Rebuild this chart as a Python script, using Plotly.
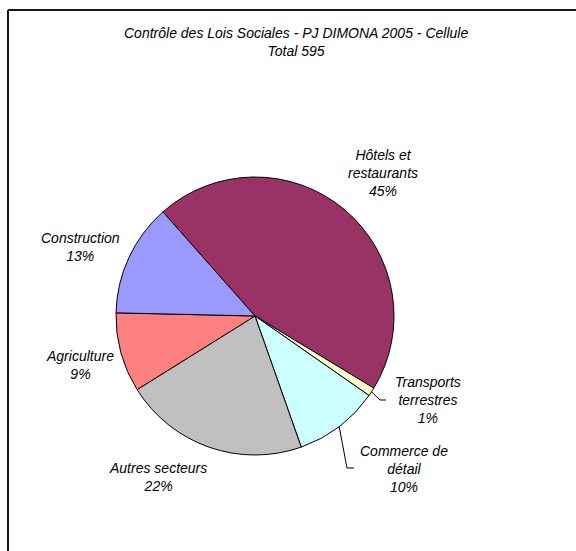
import math
import plotly.graph_objects as go

# Contrôles par secteur (nombre de dossiers)
secteurs = ["Hôtels et<br>restaurants", "Transports<br>terrestres", "Commerce de<br>détail",
            "Autres secteurs", "Agriculture", "Construction"]
nombres = [269, 6, 59, 128, 55, 78]
couleurs = ["#993366", "#FFFFCC", "#CCFFFF", "#C0C0C0", "#FF8080", "#9999FF"]

W, H = 576, 551
CX, CY, R = 255, 316, 139     # pie centre and radius in pixels
ROTATION = -41.5              # start angle of the first slice (clockwise from 12 o'clock)
FONT = "Liberation Sans, Arial, sans-serif"

total = sum(nombres)


def px(x):
    return x / W


def py(y):
    return 1 - y / H


fig = go.Figure(go.Pie(
    labels=[s.replace("<br>", " ") for s in secteurs],
    values=nombres,
    sort=False,
    direction="clockwise",
    rotation=ROTATION,
    marker=dict(colors=couleurs, line=dict(color="black", width=1)),
    textinfo="none",
    hoverinfo="label+value+percent",
    showlegend=False,
    domain=dict(x=[px(CX - R), px(CX + R)], y=[py(CY + R), py(CY - R)]),
))

# label anchor (centre of middle line) for each slice
label_pos = [(383, 173), (428, 400), (404, 469), (158, 477), (80, 365), (80, 247)]
# slices whose label is tied to the pie with a leader line: elbow and end points
leaders = {1: [(380, 400), (386, 400)], 2: [(347, 468), (354, 468)]}

annotations = [
    dict(x=px(296), y=py(42), xref="paper", yref="paper",
         text=f"<i>Contrôle des Lois Sociales - PJ DIMONA 2005 - Cellule<br>Total {total}</i>",
         showarrow=False, xanchor="center", yanchor="middle",
         font=dict(family=FONT, size=14, color="black")),
]
shapes = []

cum = 0
for i, (s, v) in enumerate(zip(secteurs, nombres)):
    pct = round(v / total * 100)
    lx, ly = label_pos[i]
    annotations.append(dict(
        x=px(lx), y=py(ly), xref="paper", yref="paper",
        text=f"<i>{s}<br>{pct}%</i>", showarrow=False,
        xanchor="center", yanchor="middle", align="center",
        font=dict(family=FONT, size=14, color="black")))
    mid = math.radians(ROTATION + (cum + v / 2) / total * 360)
    cum += v
    if i in leaders:
        pts = [(CX + R * math.sin(mid), CY - R * math.cos(mid))] + leaders[i]
        for (x0, y0), (x1, y1) in zip(pts[:-1], pts[1:]):
            shapes.append(dict(type="line", xref="paper", yref="paper",
                               x0=px(x0), y0=py(y0), x1=px(x1), y1=py(y1),
                               line=dict(color="black", width=1)))

# chart frame (left and top edges)
shapes.append(dict(type="line", xref="paper", yref="paper", x0=px(8), y0=py(10),
                   x1=px(8), y1=0, line=dict(color="#1a1a1a", width=2)))
shapes.append(dict(type="line", xref="paper", yref="paper", x0=px(8), y0=py(10),
                   x1=1, y1=py(10), line=dict(color="#1a1a1a", width=2)))

fig.update_layout(
    width=W, height=H,
    margin=dict(l=0, r=0, t=0, b=0),
    paper_bgcolor="white", plot_bgcolor="white",
    annotations=annotations, shapes=shapes,
)

fig.write_html("out.html")
